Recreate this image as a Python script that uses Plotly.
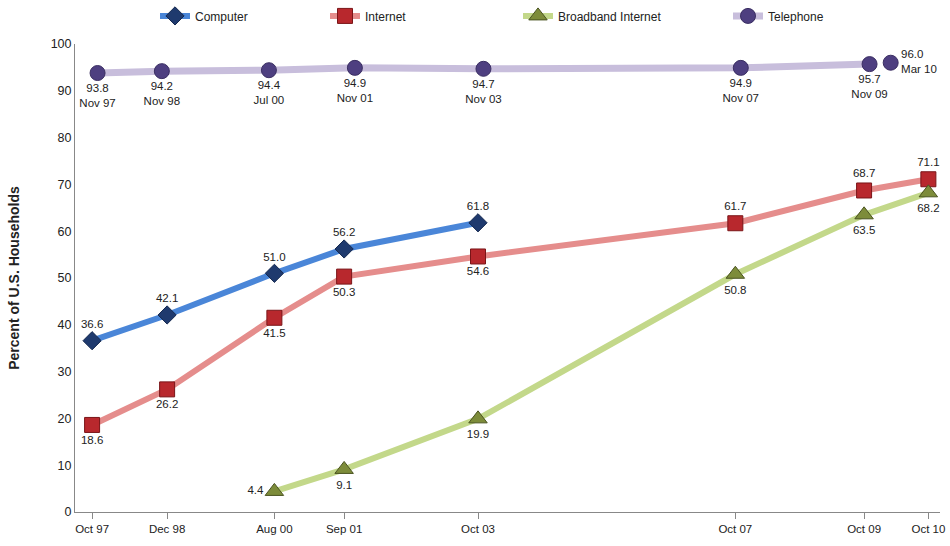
import plotly.graph_objects as go

# ---- data ----
tick_dates = ["1997-10-15", "1998-12-15", "2000-08-15", "2001-09-15", "2003-10-15",
              "2007-10-15", "2009-10-15", "2010-10-15"]
tick_labels = ["Oct 97", "Dec 98", "Aug 00", "Sep 01", "Oct 03", "Oct 07", "Oct 09", "Oct 10"]

computer_dates = ["1997-10-15", "1998-12-15", "2000-08-15", "2001-09-15", "2003-10-15"]
computer_vals = [36.6, 42.1, 51.0, 56.2, 61.8]

internet_dates = ["1997-10-15", "1998-12-15", "2000-08-15", "2001-09-15", "2003-10-15",
                  "2007-10-15", "2009-10-15", "2010-10-15"]
internet_vals = [18.6, 26.2, 41.5, 50.3, 54.6, 61.7, 68.7, 71.1]

broadband_dates = ["2000-08-15", "2001-09-15", "2003-10-15", "2007-10-15", "2009-10-15", "2010-10-15"]
broadband_vals = [4.4, 9.1, 19.9, 50.8, 63.5, 68.2]

phone_dates = ["1997-11-15", "1998-11-15", "2000-07-15", "2001-11-15", "2003-11-15",
               "2007-11-15", "2009-11-15"]
phone_vals = [93.8, 94.2, 94.4, 94.9, 94.7, 94.9, 95.7]
phone_labels = ["Nov 97", "Nov 98", "Jul 00", "Nov 01", "Nov 03", "Nov 07", "Nov 09"]
phone_last_date = ["2010-03-15"]
phone_last_val = [96.0]
phone_last_label = ["Mar 10"]

FONT = "Liberation Sans"
LBL = dict(family=FONT, size=11.5, color="#222222")

fig = go.Figure()

fig.add_trace(go.Scatter(
    x=computer_dates, y=computer_vals, name="Computer", mode="lines+markers+text",
    legend="legend",
    line=dict(color="#4A86D8", width=6),
    marker=dict(symbol="diamond", size=14, color="#1F3A6E", line=dict(color="#14284F", width=1)),
    text=[f"{v:.1f}" for v in computer_vals], textposition="top center",
    textfont=LBL, cliponaxis=False))

fig.add_trace(go.Scatter(
    x=internet_dates, y=internet_vals, name="Internet", mode="lines+markers+text",
    legend="legend2",
    line=dict(color="#E58D8C", width=6),
    marker=dict(symbol="square", size=15, color="#B8282D", line=dict(color="#7A1518", width=1)),
    text=[f"{v:.1f}" for v in internet_vals],
    textposition=["bottom center"] * 5 + ["top center"] * 3,
    textfont=LBL, cliponaxis=False))

fig.add_trace(go.Scatter(
    x=broadband_dates, y=broadband_vals, name="Broadband Internet", mode="lines+markers+text",
    legend="legend3",
    line=dict(color="#C3D88A", width=6),
    marker=dict(symbol="triangle-up", size=16, color="#7D8C3A", line=dict(color="#4A5320", width=1)),
    text=[f"{v:.1f}" for v in broadband_vals],
    textposition=["middle left"] + ["bottom center"] * 5,
    textfont=LBL, cliponaxis=False))

fig.add_trace(go.Scatter(
    x=phone_dates, y=phone_vals, name="Telephone", mode="lines+markers+text",
    legend="legend4",
    line=dict(color="#C8BEDC", width=7),
    marker=dict(symbol="circle", size=15, color="#4E3F80", line=dict(color="#3A2E62", width=1)),
    text=[f"{v:.1f}<br>{l}" for v, l in zip(phone_vals, phone_labels)],
    textposition="bottom center", textfont=LBL, cliponaxis=False))

fig.add_trace(go.Scatter(
    x=phone_last_date, y=phone_last_val, name="Telephone", mode="markers+text",
    showlegend=False,
    marker=dict(symbol="circle", size=15, color="#4E3F80", line=dict(color="#3A2E62", width=1)),
    text=[f"{v:.1f}<br>{l}" for v, l in zip(phone_last_val, phone_last_label)],
    textposition="middle right", textfont=LBL, cliponaxis=False))

PLOT_L, PLOT_W = 75, 865


def leg(px):
    return dict(orientation="h", x=(px - PLOT_L) / PLOT_W, xanchor="left",
                y=1.06, yanchor="middle", font=dict(family=FONT, size=12),
                itemwidth=30, bgcolor="rgba(0,0,0,0)")


fig.update_layout(
    width=950, height=546,
    margin=dict(l=75, r=10, t=44, b=34, autoexpand=False),
    paper_bgcolor="white", plot_bgcolor="white",
    font=dict(family=FONT, size=12, color="#222222"),
    showlegend=True,
    legend=leg(155), legend2=leg(325), legend3=leg(518), legend4=leg(728),
    xaxis=dict(type="date", range=["1997-07-10", "2010-12-20"], automargin=False,
               tickvals=tick_dates, ticktext=tick_labels,
               showgrid=False, zeroline=False, showline=True, linecolor="#888888",
               ticks="outside", ticklen=6, tickcolor="#888888",
               tickfont=dict(family=FONT, size=11.5)),
    yaxis=dict(range=[0, 100], dtick=10, showgrid=False, zeroline=False, automargin=False,
               showline=True, linecolor="#888888", ticks="",
               title=dict(text="<b>Percent of U.S. Households</b>", standoff=27,
                          font=dict(family=FONT, size=14)),
               tickfont=dict(family=FONT, size=12.5)),
)

fig.write_html(
    "out.html",
    config={"displayModeBar": False},
    post_script="document.body.style.margin='0';document.body.style.overflow='hidden';",
)
